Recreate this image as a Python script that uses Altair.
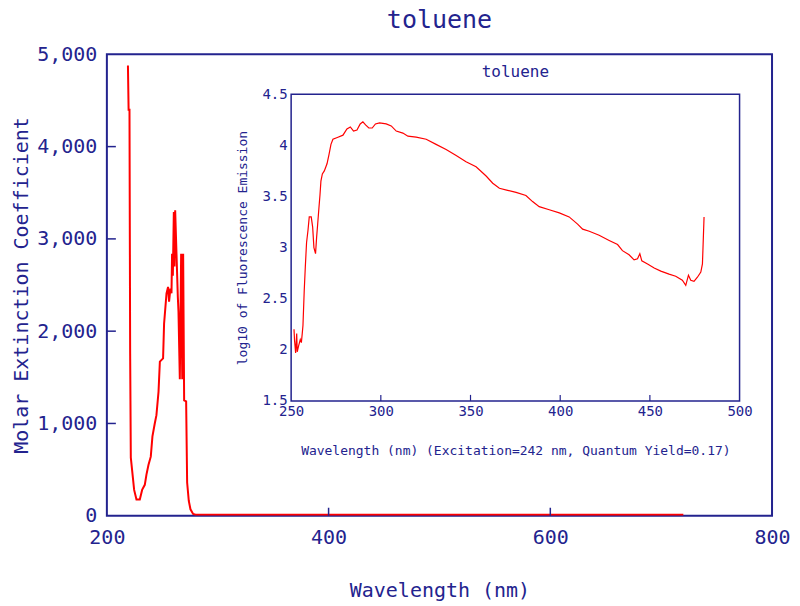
import altair as alt
import pandas as pd

NAVY = "#23238e"
RED = "#ff0000"
FONT = "DejaVu Sans Mono"

# Main absorption spectrum (Molar extinction coefficient)
abs_nm = [219.0, 219.6, 220.4, 221.0, 221.6, 224.6, 226.7, 229.7, 231.8, 234.2, 235.7,
          237.5, 239.6, 241.1, 243.2, 244.7, 246.6, 247.8, 250.7, 251.6, 253.8, 255.2,
          256.1, 257.3, 258.3, 258.8, 259.5, 260.4, 261.0, 261.6, 264.0, 264.6, 265.8,
          267.0, 268.0, 268.8, 269.7, 271.5, 272.4, 273.9, 275.4, 277.8, 280.0, 300.0,
          400.0, 500.0, 600.0, 720.0]
abs_val = [4880, 4400, 4400, 1760, 630, 280, 175, 175, 280, 335, 445,
           550, 640, 860, 1000, 1090, 1345, 1670, 1705, 2080, 2410, 2480,
           2320, 2460, 2410, 2840, 2600, 3290, 2700, 3310, 2370, 2210, 1480,
           2840, 1480, 2840, 1250, 1240, 360, 160, 70, 20, 12, 12,
           12, 12, 12, 12]

# Inset fluorescence emission (log10)
em_nm = [251.6, 251.9, 252.5, 253.1, 253.4, 254.2, 255.1, 255.7, 256.2, 256.6, 257.3,
         257.9, 258.6, 259.4, 260.1, 261.2, 262.0, 262.7, 263.6, 264.2, 264.8, 265.5,
         266.1, 266.6, 267.4, 268.5, 270.0, 271.1, 272.2, 273.3, 276.1, 278.9, 281.1,
         283.0, 284.8, 286.7, 288.5, 290.0, 291.5, 293.3, 295.2, 297.0, 299.3, 303.0,
         305.8, 308.6, 312.3, 315.1, 319.7, 325.3, 330.8, 336.4, 342.0, 347.5, 353.1,
         358.7, 362.4, 366.1, 370.7, 375.4, 380.9, 384.6, 388.3, 393.9, 399.5, 405.0,
         409.7, 412.5, 416.2, 421.7, 427.3, 432.0, 434.7, 438.4, 441.2, 443.1, 444.4,
         445.5, 448.7, 452.4, 456.1, 460.7, 464.4, 468.1, 470.0, 471.5, 472.8, 474.6,
         476.5, 478.4, 479.3, 479.6, 480.2]
em_val = [2.20, 2.09, 1.97, 2.16, 1.98, 2.04, 2.10, 2.07, 2.16, 2.24, 2.58,
          2.81, 3.05, 3.17, 3.30, 3.30, 3.20, 3.00, 2.94, 3.10, 3.23, 3.39,
          3.52, 3.65, 3.72, 3.75, 3.82, 3.91, 4.01, 4.06, 4.08, 4.10, 4.16,
          4.18, 4.14, 4.15, 4.21, 4.23, 4.20, 4.17, 4.17, 4.21, 4.22, 4.21,
          4.19, 4.14, 4.12, 4.09, 4.08, 4.06, 4.01, 3.96, 3.90, 3.84, 3.79,
          3.70, 3.63, 3.58, 3.56, 3.54, 3.51, 3.45, 3.40, 3.37, 3.34, 3.30,
          3.23, 3.18, 3.16, 3.12, 3.07, 3.03, 2.97, 2.93, 2.88, 2.89, 2.94,
          2.87, 2.84, 2.80, 2.77, 2.74, 2.72, 2.68, 2.63, 2.73, 2.68, 2.67,
          2.71, 2.76, 2.84, 2.99, 3.30]

main_xticks = [400, 600]
main_yticks = [1000, 2000, 3000, 4000]
inset_xticks = [300, 350, 400, 450]

W, H = 666, 462
INSET_X = [184.5, 633.5]
INSET_Y = [347, 40]

abs_df = pd.DataFrame({"nm": abs_nm, "val": abs_val})
em_df = pd.DataFrame({"nm": em_nm, "val": em_val})

mx = alt.X("nm:Q", scale=alt.Scale(domain=[200, 800], nice=False),
           axis=alt.Axis(values=[200, 400, 600, 800], title="Wavelength (nm)",
                         ticks=False, domain=False, grid=False, labelFontSize=20,
                         labelPadding=12, titleFontSize=20, titlePadding=33,
                         titleFontWeight="normal", labelFlush=False,
                         labelFont=FONT, titleFont=FONT, labelColor=NAVY, titleColor=NAVY))
my = alt.Y("val:Q", scale=alt.Scale(domain=[0, 5000], nice=False),
           axis=alt.Axis(values=[0, 1000, 2000, 3000, 4000, 5000], format=",d",
                         title="Molar Extinction Coefficient", ticks=False, domain=False,
                         grid=False, labelFontSize=20, labelPadding=10, titleFontSize=20,
                         titlePadding=5, titleFontWeight="normal", labelFlush=False,
                         labelFont=FONT, titleFont=FONT, labelColor=NAVY, titleColor=NAVY))

main_line = alt.Chart(abs_df).mark_line(color=RED, strokeWidth=2, interpolate="linear").encode(x=mx, y=my)

mxt = alt.Chart(pd.DataFrame({"t": main_xticks})).mark_rule(color=NAVY, strokeWidth=1.5).encode(
    x=alt.X("t:Q"), y=alt.value(H), y2=alt.value(H - 8))
myt = alt.Chart(pd.DataFrame({"t": main_yticks})).mark_rule(color=NAVY, strokeWidth=1.5).encode(
    y=alt.Y("t:Q"), x=alt.value(0), x2=alt.value(9))

main = alt.layer(main_line, mxt, myt)

ix = alt.X("nm:Q", scale=alt.Scale(domain=[250, 500], range=INSET_X, nice=False),
           axis=alt.Axis(orient="bottom", offset=-(H - INSET_Y[0]), values=[250, 300, 350, 400, 450, 500],
                         title="Wavelength (nm) (Excitation=242 nm, Quantum Yield=0.17)",
                         ticks=False, domain=False, grid=False, labelFontSize=14, labelPadding=4,
                         titleFontSize=13, titlePadding=26, titleFontWeight="normal", labelFlush=False,
                         labelFont=FONT, titleFont=FONT, labelColor=NAVY, titleColor=NAVY))
iy = alt.Y("val:Q", scale=alt.Scale(domain=[1.5, 4.5], range=INSET_Y, nice=False),
           axis=alt.Axis(orient="left", offset=-INSET_X[0], values=[1.5, 2, 2.5, 3, 3.5, 4, 4.5],
                         format="~g",
                         title="log10 of Fluorescence Emission", ticks=False, domain=False,
                         grid=False, labelFontSize=14, labelPadding=4, titleFontSize=13,
                         titlePadding=12, titleFontWeight="normal", labelFlush=False,
                         labelFont=FONT, titleFont=FONT, labelColor=NAVY, titleColor=NAVY))

inset_line = alt.Chart(em_df).mark_line(color=RED, strokeWidth=1.2).encode(x=ix, y=iy)

frame = alt.Chart(pd.DataFrame({"a": [0]})).mark_rect(fill=None, stroke=NAVY, strokeWidth=1.5).encode(
    x=alt.datum(250), x2=alt.datum(500), y=alt.datum(1.5), y2=alt.datum(4.5))

ixt = alt.Chart(pd.DataFrame({"t": inset_xticks})).mark_rule(color=NAVY, strokeWidth=1.2).encode(
    x=alt.X("t:Q"), y=alt.value(INSET_Y[0]), y2=alt.value(INSET_Y[0] - 6))

inset_title = alt.Chart(pd.DataFrame({"s": ["toluene"]})).mark_text(
    font=FONT, fontSize=16, color=NAVY, baseline="middle", align="center").encode(
    text="s:N", x=alt.value((INSET_X[0] + INSET_X[1]) / 2), y=alt.value(18))

inset = alt.layer(inset_line, frame, ixt, inset_title)

chart = alt.layer(main, inset).resolve_scale(x="independent", y="independent").properties(
    width=W, height=H,
    title=alt.TitleParams("toluene", fontSize=25, font=FONT, color=NAVY, fontWeight="normal",
                          anchor="middle", offset=11, frame="group"),
    autosize=alt.AutoSizeParams(type="none"),
    padding={"left": 99, "top": 46, "right": 20, "bottom": 90},
).configure_view(stroke=NAVY, strokeWidth=2)

chart.save("out.html", embed_options={"renderer": "svg", "actions": False})
